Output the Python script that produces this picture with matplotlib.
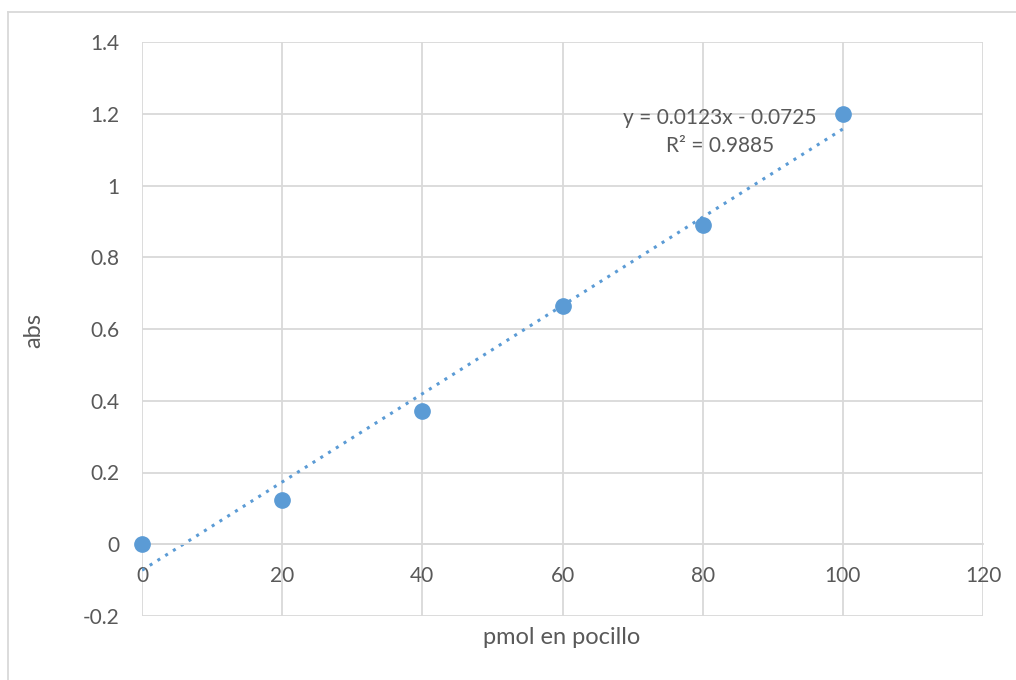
import numpy as np
import matplotlib
matplotlib.use("Agg")
import matplotlib.pyplot as plt
from matplotlib.lines import Line2D

# data
pmol = [0, 20, 40, 60, 80, 100]
absorb = [0.0, 0.123, 0.372, 0.665, 0.891, 1.2]
slope = 0.0123
intercept = -0.0725
r2 = 0.9885
xticks = [0, 20, 40, 60, 80, 100, 120]
yticks = [-0.2, 0, 0.2, 0.4, 0.6, 0.8, 1, 1.2, 1.4]
ytick_labels = ["-0.2", "0", "0.2", "0.4", "0.6", "0.8", "1", "1.2", "1.4"]

blue = "#5B9BD5"
grey_txt = "#595959"
grid_c = "#D9D9D9"

plt.rcParams['font.family'] = ['Lato', 'DejaVu Sans']

fig = plt.figure(figsize=(10.16, 6.8), dpi=100)
ax = fig.add_axes([142/1016, 1 - 616/680, (983-142)/1016, (616-42)/680])

ax.set_xlim(0, 120)
ax.set_ylim(-0.2, 1.4)
ax.set_xticks(xticks)
ax.set_yticks(yticks)
ax.set_yticklabels(ytick_labels)
ax.grid(True, color=grid_c, lw=1.3)
ax.set_axisbelow(True)
for s in ["top", "right", "left"]:
    ax.spines[s].set_visible(False)
ax.spines["bottom"].set_position(("data", 0))
ax.spines["bottom"].set_color(grid_c)
ax.spines["bottom"].set_linewidth(1.3)
ax.tick_params(axis="both", length=0, labelsize=15, colors=grey_txt)
ax.tick_params(axis="x", pad=16)
ax.tick_params(axis="y", pad=16)

# linear trendline
xs = np.array([0, 100])
ax.plot(xs, slope * xs + intercept, color=blue, lw=2.2, ls=(0, (1, 2)), zorder=2)
ax.plot(pmol, absorb, "o", color=blue, ms=11, zorder=3, clip_on=False)

ax.text(82.5, 1.15, "y = %.4fx - %.4f\nR² = %.4f" % (slope, -intercept, r2),
        ha="center", va="center", fontsize=15, color=grey_txt, linespacing=1.5)

fig.text(562/1016, 1 - 637/680, "pmol en pocillo", ha="center", va="center",
         fontsize=17, color=grey_txt)
fig.text(34/1016, 1 - 330/680, "abs", ha="center", va="center", rotation=90,
         fontsize=17, color=grey_txt)

# outer chart border
fig.add_artist(Line2D([8/1016, 1], [1 - 12/680, 1 - 12/680], transform=fig.transFigure,
                      color=grid_c, lw=1.3))
fig.add_artist(Line2D([8/1016, 8/1016], [0, 1 - 12/680], transform=fig.transFigure,
                      color=grid_c, lw=1.3))

fig.savefig("out.png", dpi=100)
